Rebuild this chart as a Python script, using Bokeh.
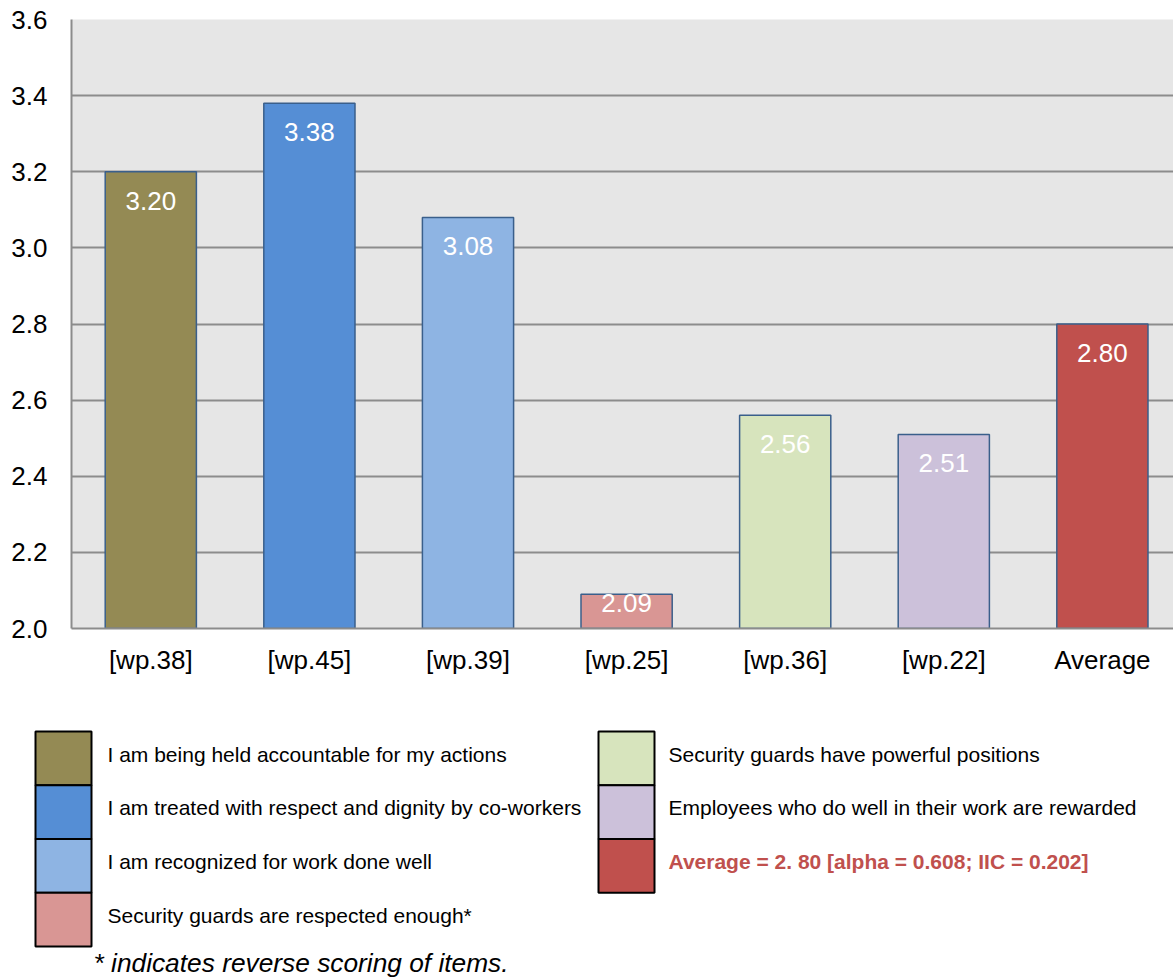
from bokeh.plotting import figure
from bokeh.layouts import column
from bokeh.models import Range1d, FixedTicker, PrintfTickFormatter, ColumnDataSource
from bokeh.core.properties import value
from bokeh.embed import file_html
from bokeh.resources import INLINE

# Survey items and their mean scores
items = ["[wp.38]", "[wp.45]", "[wp.39]", "[wp.25]", "[wp.36]", "[wp.22]", "Average"]
scores = [3.20, 3.38, 3.08, 2.09, 2.56, 2.51, 2.80]
descriptions = [
    "I am being held accountable for my actions",
    "I am treated with respect and dignity by co-workers",
    "I am recognized for work done well",
    "Security guards are respected enough*",
    "Security guards have powerful positions",
    "Employees who do well in their work are rewarded",
    "Average = 2. 80 [alpha = 0.608; IIC = 0.202]",
]
footnote = "* indicates reverse scoring of items."
y_ticks = [2.0, 2.2, 2.4, 2.6, 2.8, 3.0, 3.2, 3.4, 3.6]

palette = ["#948A54", "#558ED5", "#8EB4E3", "#D99694", "#D7E4BD", "#CCC1DA", "#C0504D"]

FONT = "Liberation Sans"
W = 1173
H_MAIN = 690
H_LEG = 977 - H_MAIN
LEFT, TOP, BOTTOM = 71, 19, 62
SLOT = 158.6                      # pixels per category
Y0, Y1 = y_ticks[0], y_ticks[-1]
frame_h = H_MAIN - TOP - BOTTOM
ppu = frame_h / (Y1 - Y0)         # pixels per score unit

# ---- main bar chart ----
xs = [i + 0.5 for i in range(len(items))]
label_y = []
for v in scores:
    bar_px = (v - Y0) * ppu
    off = min(29.0, bar_px * 0.26)
    label_y.append(v - off / ppu)

src = ColumnDataSource(dict(
    x=xs, top=scores, color=palette,
    label=[f"{v:.2f}" for v in scores], label_y=label_y,
))

p = figure(width=W, height=H_MAIN,
           x_range=Range1d(0, (W - LEFT) / SLOT), y_range=Range1d(Y0, Y1),
           output_backend="svg", toolbar_location=None,
           min_border_left=LEFT, min_border_right=0,
           min_border_top=TOP, min_border_bottom=BOTTOM)
p.frame_align = False
p.background_fill_color = "#E6E6E6"
p.border_fill_color = "white"
p.outline_line_color = None

p.xgrid.grid_line_color = None
p.ygrid.ticker = FixedTicker(ticks=y_ticks)
p.ygrid.grid_line_color = "#8C8C8C"
p.ygrid.grid_line_width = 2

p.yaxis.ticker = FixedTicker(ticks=y_ticks)
p.yaxis.formatter = PrintfTickFormatter(format="%.1f")
p.xaxis.ticker = FixedTicker(ticks=xs)
p.xaxis.major_label_overrides = {x: name for x, name in zip(xs, items)}

for ax in (p.xaxis[0], p.yaxis[0]):
    ax.axis_line_color = "#8C8C8C"
    ax.axis_line_width = 2
    ax.major_tick_line_color = None
    ax.minor_tick_line_color = None
    ax.major_label_text_font = FONT
    ax.major_label_text_font_size = "26px"
    ax.major_label_text_color = "black"
p.yaxis.major_label_standoff = 18
p.xaxis.major_label_standoff = 10

p.vbar(x="x", top="top", bottom=Y0, width=0.575, fill_color="color",
       line_color="#3A5F8B", line_width=1.5, source=src)
p.text(x="x", y="label_y", text="label", text_color="white",
       text_align="center", text_baseline="middle",
       text_font=value(FONT), text_font_size="26px", source=src)

# ---- legend panel (page-pixel coordinates) ----
lg = figure(width=W, height=H_LEG,
            x_range=Range1d(0, W), y_range=Range1d(977, H_MAIN),
            output_backend="svg", toolbar_location=None, min_border=0)
lg.frame_align = False
lg.axis.visible = False
lg.grid.grid_line_color = None
lg.outline_line_color = None
lg.background_fill_color = "white"
lg.border_fill_color = "white"

ROW0, ROW_H = 731, 53.75
col_box_left = [35, 598]
col_text_left = [107, 668]
BOX_W = 56
n_left = 4
L, R, T, B, TX, TY, TC, TS = [], [], [], [], [], [], [], []
for i, desc in enumerate(descriptions):
    col = 0 if i < n_left else 1
    row = i if i < n_left else i - n_left
    top = ROW0 + row * ROW_H
    L.append(col_box_left[col]); R.append(col_box_left[col] + BOX_W)
    T.append(top); B.append(top + ROW_H)
    TX.append(col_text_left[col]); TY.append(top + 22.5)
    is_avg = items[i] == "Average"
    TC.append(palette[i] if is_avg else "black")
    TS.append("bold" if is_avg else "normal")

lsrc = ColumnDataSource(dict(left=L, right=R, top=T, bottom=B, color=palette,
                             tx=TX, ty=TY, text=descriptions, tc=TC, ts=TS))
lg.quad(left="left", right="right", top="top", bottom="bottom",
        fill_color="color", line_color="black", line_width=2, source=lsrc)
lg.text(x="tx", y="ty", text="text", text_color="tc", text_font_style="ts",
        text_baseline="middle", text_font=value(FONT), text_font_size="21px",
        source=lsrc)
lg.text(x=[93], y=[962], text=[footnote], text_baseline="middle",
        text_font=value(FONT), text_font_size="26.3px", text_font_style="italic",
        text_color="black")

layout = column(p, lg, spacing=0)
open("out.html", "w").write(file_html(layout, INLINE))
